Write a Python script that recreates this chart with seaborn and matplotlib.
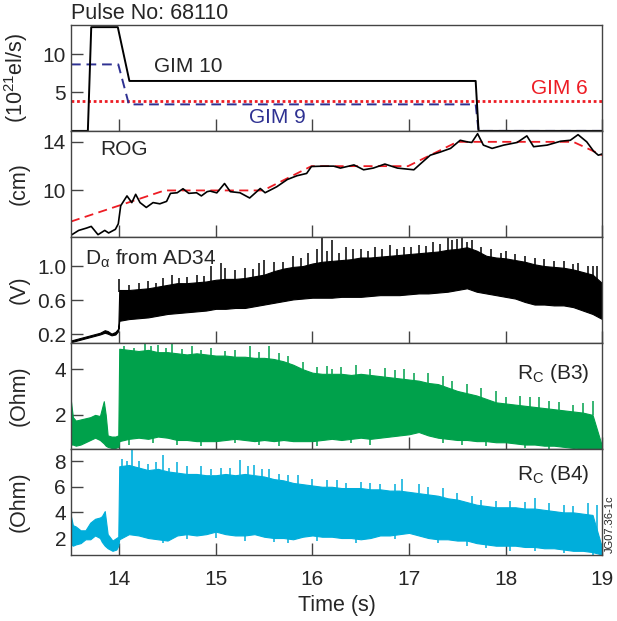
import numpy as np
import pandas as pd
import seaborn as sns
import matplotlib.pyplot as plt

# Gas injection (GIM) waveforms, 10^21 el/s
gim10_t = [13.5, 13.675, 13.71, 13.985, 14.105, 17.69, 17.72, 19.0]
gim10_v = [0.0, 0.0, 13.5, 13.5, 6.5, 6.5, 0.0, 0.0]
gim9_t = [13.5, 13.99, 14.1, 17.69, 17.72, 19.0]
gim9_v = [8.65, 8.65, 3.45, 3.45, 0.0, 0.0]
gim6_t = [13.5, 19.0]
gim6_v = [3.85, 3.85]

# ROG (cm) trace and its piecewise reference
rog_t = [13.5, 13.58, 13.66, 13.71, 13.78, 13.85, 13.89, 13.96, 13.99, 14.015, 14.08, 14.13,
         14.17, 14.215, 14.28, 14.35, 14.42, 14.49, 14.53, 14.6, 14.66, 14.72, 14.8, 14.85,
         14.91, 14.94, 15.01, 15.09, 15.15, 15.25, 15.35, 15.46, 15.51, 15.63, 15.74, 15.84,
         15.94, 15.99, 16.11, 16.22, 16.29, 16.43, 16.53, 16.63, 16.75, 16.88, 17.05, 17.12,
         17.22, 17.32, 17.43, 17.53, 17.6, 17.65, 17.71, 17.77, 17.86, 17.98, 18.12, 18.22,
         18.29, 18.43, 18.57, 18.67, 18.75, 18.84, 18.91, 18.96, 19.0]
rog_v = [6.31, 6.71, 6.9, 7.04, 6.36, 6.71, 6.5, 6.8, 7.25, 8.74, 9.55, 9.0,
         9.68, 9.0, 8.6, 9.0, 8.9, 9.1, 9.76, 9.81, 10.14, 9.76, 9.81, 9.55,
         9.9, 9.95, 9.8, 10.57, 9.9, 9.81, 9.38, 10.16, 9.81, 10.3, 10.9, 11.21,
         11.4, 11.97, 12.0, 12.0, 11.84, 12.1, 11.7, 11.84, 12.17, 11.84, 11.7, 12.2,
         12.9, 13.15, 13.46, 14.13, 14.0, 13.95, 14.67, 13.73, 13.46, 13.73, 13.95, 14.49,
         13.6, 13.73, 14.05, 14.13, 14.59, 14.0, 13.24, 12.9, 13.0]
rogfit_t = [13.5, 14.47, 15.49, 15.99, 16.99, 17.5, 18.7, 19.0]
rogfit_v = [7.44, 10.0, 10.0, 12.0, 12.0, 14.0, 14.0, 12.9]

# Burst envelopes sampled every 0.1 s from 14.0 to 19.0
burst_t = np.round(np.arange(14.0, 19.01, 0.1), 1)

# D-alpha (V)
da_pre_t = [13.5, 13.6, 13.7, 13.8, 13.85, 13.88, 13.92, 13.96, 13.99]
da_pre_hi = [0.13, 0.16, 0.19, 0.22, 0.25, 0.24, 0.21, 0.23, 0.27]
da_pre_lo = [0.11, 0.14, 0.17, 0.20, 0.22, 0.21, 0.19, 0.20, 0.24]
da_hi = [0.72, 0.72, 0.73, 0.74, 0.76, 0.78, 0.80, 0.80, 0.81, 0.82, 0.84, 0.85, 0.85,
         0.86, 0.88, 0.90, 0.94, 0.97, 0.99, 1.00, 1.03, 1.05, 1.06, 1.07, 1.08, 1.10,
         1.10, 1.11, 1.12, 1.13, 1.14, 1.15, 1.16, 1.17, 1.19, 1.20, 1.22, 1.18, 1.12,
         1.10, 1.09, 1.07, 1.05, 1.02, 1.00, 0.99, 0.98, 0.96, 0.93, 0.90, 0.80]
da_lo = [0.36, 0.38, 0.39, 0.40, 0.42, 0.44, 0.45, 0.46, 0.47, 0.48, 0.50, 0.50, 0.51,
         0.51, 0.53, 0.55, 0.57, 0.59, 0.61, 0.62, 0.63, 0.63, 0.63, 0.64, 0.64, 0.64,
         0.65, 0.66, 0.66, 0.66, 0.67, 0.68, 0.68, 0.69, 0.70, 0.72, 0.74, 0.70, 0.68,
         0.66, 0.64, 0.62, 0.58, 0.55, 0.55, 0.54, 0.54, 0.52, 0.48, 0.44, 0.38]
da_spike_t = [14.0, 14.1, 14.2, 14.3, 14.38, 14.45, 14.55, 14.62, 14.7, 14.8, 14.88, 14.95,
              15.05, 15.1, 15.2, 15.3, 15.38, 15.45, 15.5, 15.6, 15.7, 15.8, 15.88, 15.95,
              16.05, 16.1, 16.15, 16.2, 16.27, 16.35, 16.42, 16.5, 16.58, 16.65, 16.72, 16.8,
              16.88, 16.95, 17.02, 17.1, 17.18, 17.25, 17.32, 17.4, 17.45, 17.5, 17.55, 17.6,
              17.65, 17.75, 17.85, 17.95, 18.0, 18.1, 18.2, 18.3, 18.4, 18.5, 18.6, 18.7,
              18.75, 18.85, 18.9, 18.95]
da_spike_v = [0.85, 0.78, 0.80, 0.82, 0.80, 0.86, 0.89, 0.86, 0.87, 0.90, 0.88, 1.0,
              1.03, 0.98, 0.95, 0.98, 0.96, 1.04, 1.07, 1.05, 1.05, 1.12, 1.10, 1.15,
              1.2, 1.34, 1.18, 1.3, 1.15, 1.22, 1.20, 1.2, 1.18, 1.22, 1.20, 1.25,
              1.20, 1.22, 1.22, 1.25, 1.24, 1.28, 1.26, 1.34, 1.30, 1.32, 1.34, 1.28,
              1.30, 1.22, 1.2, 1.15, 1.18, 1.14, 1.12, 1.10, 1.08, 1.06, 1.06, 1.02,
              1.04, 1.0, 1.0, 1.0]

# Rc (B3), Ohm
b3_pre_t = [13.5, 13.52, 13.55, 13.6, 13.65, 13.7, 13.75, 13.8, 13.84, 13.86, 13.88, 13.92, 13.96, 13.99]
b3_pre_hi = [2.6, 1.9, 1.75, 1.8, 1.85, 1.9, 2.0, 1.95, 2.6, 2.0, 1.1, 1.05, 1.05, 1.1]
b3_pre_lo = [0.7, 0.7, 0.65, 0.7, 0.8, 0.9, 1.0, 0.9, 0.75, 0.65, 0.6, 0.55, 0.55, 0.6]
b3_hi = [4.9, 4.85, 4.8, 4.85, 4.75, 4.75, 4.7, 4.65, 4.7, 4.65, 4.6, 4.6, 4.55, 4.55,
         4.5, 4.5, 4.45, 4.35, 4.2, 4.0, 3.85, 3.8, 3.8, 3.8, 3.75, 3.8, 3.75, 3.7, 3.65,
         3.6, 3.55, 3.5, 3.4, 3.35, 3.2, 3.05, 2.95, 2.85, 2.7, 2.55, 2.5, 2.45, 2.4, 2.35,
         2.3, 2.25, 2.2, 2.15, 2.1, 2.0, 0.6]
b3_lo = [0.85, 0.95, 1.0, 0.95, 1.05, 1.0, 0.9, 0.9, 0.85, 0.85, 0.85, 0.9, 0.95, 0.9,
         0.85, 0.9, 0.85, 0.9, 0.85, 0.85, 0.85, 0.9, 0.95, 0.9, 0.95, 1.0, 0.95, 1.0, 1.05,
         1.1, 1.15, 1.25, 1.1, 1.0, 0.95, 0.9, 0.9, 0.85, 0.85, 0.8, 0.8, 0.75, 0.7, 0.7,
         0.65, 0.65, 0.6, 0.55, 0.5, 0.5, 0.45]
b3_spike_t = [14.05, 14.15, 14.27, 14.33, 14.4, 14.48, 14.55, 14.65, 14.75, 14.85, 14.95,
              15.1, 15.2, 15.35, 15.45, 15.55, 15.65, 15.75, 15.9, 16.05, 16.15, 16.2, 16.3,
              16.45, 16.6, 16.75, 16.85, 16.95, 17.05, 17.2, 17.35, 17.45, 17.6, 17.75, 17.9,
              18.0, 18.15, 18.25, 18.35, 18.45, 18.55, 18.7, 18.8, 18.9]
b3_spike_v = [5.0, 4.95, 5.2, 5.0, 5.05, 4.95, 5.1, 4.9, 5.0, 4.85, 4.95,
              4.8, 4.85, 5.0, 4.75, 5.0, 4.7, 4.6, 4.3, 4.1, 4.15, 4.0, 4.1,
              4.2, 4.0, 4.05, 3.95, 4.0, 3.85, 3.85, 3.7, 3.5, 3.35, 3.2, 3.05,
              2.8, 2.85, 2.8, 2.8, 2.6, 2.55, 2.45, 2.5, 2.6]
b3_dip_t = [14.1, 14.35, 14.6, 14.85, 15.2, 15.45, 15.65, 16.05, 16.4, 16.6, 17.35, 17.55,
            17.8, 18.2, 18.45, 18.8]
b3_dip_v = [0.7, 0.75, 0.7, 0.65, 0.75, 0.7, 0.65, 0.65, 0.75, 0.7, 0.75, 0.7,
            0.65, 0.55, 0.5, 0.4]

# Rc (B4), Ohm
b4_pre_t = [13.5, 13.52, 13.55, 13.6, 13.65, 13.7, 13.75, 13.8, 13.82, 13.85, 13.88, 13.93, 13.97, 13.99]
b4_pre_hi = [3.7, 3.0, 2.9, 2.6, 2.6, 3.2, 3.5, 3.6, 3.7, 4.1, 2.3, 1.8, 2.0, 2.1]
b4_pre_lo = [1.5, 1.4, 1.5, 1.6, 1.9, 1.9, 2.2, 2.0, 1.7, 1.4, 1.2, 1.0, 1.1, 1.4]
b4_hi = [7.6, 7.7, 7.5, 7.3, 7.4, 7.2, 7.1, 7.0, 7.0, 6.9, 6.9, 7.0, 6.9, 7.0, 6.9, 6.8,
         6.6, 6.5, 6.3, 6.2, 6.1, 6.0, 6.0, 5.9, 5.9, 5.9, 5.8, 5.8, 5.7, 5.7, 5.6, 5.5,
         5.4, 5.3, 5.1, 5.0, 4.8, 4.6, 4.5, 4.4, 4.4, 4.4, 4.3, 4.3, 4.2, 4.1, 4.0, 4.0,
         3.9, 3.8, 1.2]
b4_lo = [1.9, 2.3, 2.2, 2.0, 1.9, 1.8, 2.2, 2.3, 2.2, 2.3, 2.5, 2.3, 2.2, 2.2, 2.3, 2.1,
         2.0, 2.0, 1.9, 2.1, 2.2, 2.1, 2.1, 2.0, 2.0, 1.9, 2.0, 2.2, 2.2, 2.3, 2.4, 2.2,
         2.0, 1.9, 1.9, 1.8, 1.8, 1.6, 1.5, 1.4, 1.4, 1.4, 1.3, 1.3, 1.2, 1.2, 1.1, 1.0,
         1.0, 0.9, 0.7]
b4_spike_t = [14.03, 14.08, 14.13, 14.2, 14.3, 14.38, 14.45, 14.52, 14.6, 14.7, 14.85, 14.95,
              15.05, 15.15, 15.25, 15.33, 15.4, 15.48, 15.55, 15.65, 15.75, 15.85, 16.0, 16.15,
              16.25, 16.35, 16.5, 16.6, 16.7, 16.85, 16.93, 17.1, 17.2, 17.35, 17.5, 17.65,
              17.75, 17.9, 18.05, 18.2, 18.3, 18.45, 18.6, 18.7, 18.85, 18.95]
b4_spike_v = [8.2, 8.0, 8.9, 8.0, 7.8, 7.9, 8.5, 7.5, 7.9, 7.6, 7.6, 7.4,
              7.5, 7.5, 8.1, 7.6, 7.7, 7.4, 7.4, 7.0, 6.9, 6.9, 6.6, 6.5,
              6.5, 6.3, 6.4, 6.3, 6.2, 6.2, 6.6, 6.2, 6.0, 5.9, 5.5, 5.3,
              5.0, 4.9, 4.9, 4.8, 5.1, 4.7, 4.6, 4.5, 4.7, 4.6]
b4_dip_t = [14.45, 14.7, 15.0, 15.3, 15.6, 15.75, 16.05, 16.45, 16.85, 17.3, 17.6, 17.8,
            18.05, 18.3, 18.6, 18.9]
b4_dip_v = [1.6, 1.9, 2.0, 1.8, 1.7, 1.6, 1.8, 1.6, 1.9, 1.6, 1.4, 1.2,
            1.0, 1.0, 0.8, 0.7]

C_NAVY = '#2e3192'
C_RED = '#ed1c24'
C_GREEN = '#00a14b'
C_CYAN = '#00aedb'
FS = 15

sns.set_style('ticks')
plt.rcParams['font.family'] = ['Liberation Sans', 'DejaVu Sans']
plt.rcParams['mathtext.fontset'] = 'custom'
plt.rcParams['mathtext.rm'] = 'Liberation Sans'
plt.rcParams['mathtext.it'] = 'Liberation Sans'
plt.rcParams['axes.edgecolor'] = '#444444'


def burst(ax, pre_t, pre_hi, pre_lo, hi, lo, spike_t, spike_v, color, dip_t=None, dip_v=None):
    # dense oscillating signal drawn as a filled envelope plus the tall spikes
    t = np.concatenate([pre_t, burst_t])
    upper = np.concatenate([pre_hi, hi])
    lower = np.concatenate([pre_lo, lo])
    ax.fill_between(t, lower, upper, color=color, linewidth=0.8, edgecolor=color)
    base = np.interp(spike_t, t, upper)
    ax.vlines(spike_t, base - 0.02, spike_v, color=color, linewidth=1.1)
    if dip_t is not None:
        top = np.interp(dip_t, t, lower)
        ax.vlines(dip_t, dip_v, top + 0.02, color=color, linewidth=1.1)


fig = plt.figure(figsize=(6.17, 6.21), dpi=100)
axes = fig.subplots(5, 1, sharex=True, gridspec_kw=dict(hspace=0))
fig.subplots_adjust(left=0.115, right=0.976, top=0.96, bottom=0.106)
ax1, ax2, ax3, ax4, ax5 = axes

# Panel 1: gas fuelling
sns.lineplot(x=gim6_t, y=gim6_v, ax=ax1, color=C_RED, linestyle=(0, (1, 1)), linewidth=2, estimator=None)
sns.lineplot(x=gim9_t, y=gim9_v, ax=ax1, color=C_NAVY, linestyle=(0, (5, 3)), linewidth=1.4, estimator=None)
sns.lineplot(x=gim10_t, y=gim10_v, ax=ax1, color='black', linewidth=1.4, estimator=None)
ax1.set_ylim(0, 13.8)
ax1.set_yticks([5, 10])
ax1.set_ylabel('(10$^{21}$el/s)')
ax1.text(14.36, 8.4, 'GIM 10', fontsize=FS, va='center')
ax1.text(15.34, 1.7, 'GIM 9', fontsize=FS, va='center', color=C_NAVY)
ax1.text(18.26, 5.5, 'GIM 6', fontsize=FS, va='center', color=C_RED)
ax1.text(0.0, 1.01, 'Pulse No: 68110', transform=ax1.transAxes, fontsize=15.5, va='bottom')

# Panel 2: ROG
sns.lineplot(x=rogfit_t, y=rogfit_v, ax=ax2, color=C_RED, linestyle=(0, (5, 3)), linewidth=1.3, estimator=None)
sns.lineplot(x=rog_t, y=rog_v, ax=ax2, color='black', linewidth=1.2, estimator=None)
ax2.set_ylim(6.17, 14.9)
ax2.set_yticks([10, 14])
ax2.set_ylabel('(cm)')
ax2.text(13.8, 13.4, 'ROG', fontsize=FS, va='center')

# Panel 3: D-alpha
burst(ax3, da_pre_t, da_pre_hi, da_pre_lo, da_hi, da_lo, da_spike_t, da_spike_v, 'black')
ax3.set_ylim(0.1, 1.34)
ax3.set_yticks([0.2, 0.6, 1.0])
ax3.set_yticklabels(['0.2', '0.6', '1.0'])
ax3.set_ylabel('(V)')
ax3.text(13.645, 1.085, r'D$_\alpha$ from AD34', fontsize=FS, va='center')

# Panel 4: Rc (B3)
burst(ax4, b3_pre_t, b3_pre_hi, b3_pre_lo, b3_hi, b3_lo, b3_spike_t, b3_spike_v, C_GREEN,
      b3_dip_t, b3_dip_v)
ax4.set_ylim(0.5, 5.15)
ax4.set_yticks([2, 4])
ax4.set_ylabel('(Ohm)')
ax4.text(0.976, 0.71, r'R$_\mathregular{C}$ (B3)', transform=ax4.transAxes, fontsize=FS,
         ha='right', va='center')

# Panel 5: Rc (B4)
burst(ax5, b4_pre_t, b4_pre_hi, b4_pre_lo, b4_hi, b4_lo, b4_spike_t, b4_spike_v, C_CYAN,
      b4_dip_t, b4_dip_v)
ax5.set_ylim(0.66, 8.94)
ax5.set_yticks([2, 4, 6, 8])
ax5.set_ylabel('(Ohm)')
ax5.text(0.976, 0.76, r'R$_\mathregular{C}$ (B4)', transform=ax5.transAxes, fontsize=FS,
         ha='right', va='center')

ax5.set_xlim(13.5, 19.0)
ax5.set_xticks([14, 15, 16, 17, 18, 19])
ax5.set_xlabel('Time (s)', fontsize=15.5)

for ax in axes:
    ax.tick_params(direction='in', length=8.5, width=1, color='#444444', labelsize=FS,
                   top=False, right=False)
    ax.yaxis.label.set_fontsize(15.5)
    ax.yaxis.set_label_coords(-0.077, 0.5)
    for sp in ax.spines.values():
        sp.set_visible(True)
        sp.set_linewidth(1)
ax5.tick_params(axis='x', pad=11)

fig.text(0.988, 0.11, 'JG07.36-1c', rotation=90, fontsize=8, ha='center', va='bottom')

fig.savefig('out.png', dpi=100)
